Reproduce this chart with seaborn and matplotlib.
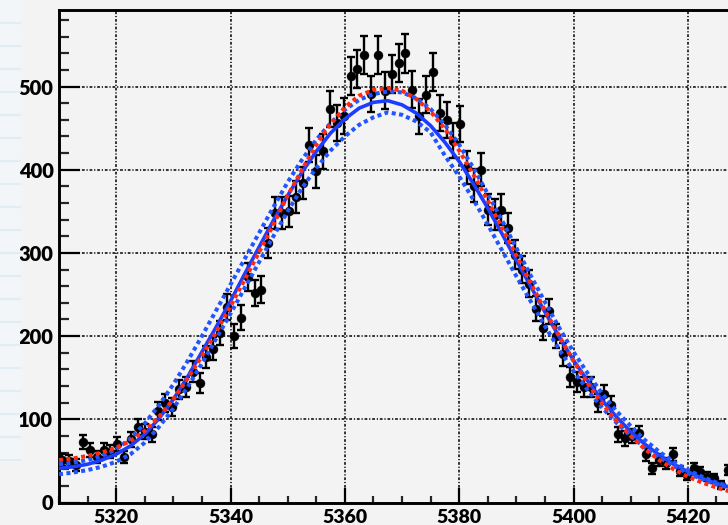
import numpy as np
import pandas as pd
import matplotlib
matplotlib.use("Agg")
import matplotlib.pyplot as plt
from matplotlib.ticker import MultipleLocator
from matplotlib.lines import Line2D
import seaborn as sns

# ---------------- data ----------------
bin_low = 5310.0
bin_width = 1.2
counts = [51, 50, 45, 73, 63, 55, 63, 61, 70, 55,
          76, 91, 85, 82, 110, 120, 115, 136, 139, 157,
          144, 175, 185, 204, 235, 200, 222, 271, 252, 256,
          312, 348, 348, 350, 367, 384, 430, 398, 422, 473,
          456, 465, 513, 521, 538, 491, 538, 495, 515, 528,
          540, 496, 464, 490, 517, 468, 460, 435, 455, 403,
          381, 400, 352, 346, 352, 330, 298, 280, 263, 233,
          210, 230, 200, 178, 151, 145, 139, 139, 120, 130,
          117, 82, 77, 80, 83, 58, 41, 51, 47, 58,
          38, 33, 41, 37, 31, 29, 21, 39]

fit_x = [5310, 5312.5, 5315, 5317.5, 5320, 5322.5, 5325, 5327.5, 5330, 5332.5,
         5335, 5337.5, 5340, 5342.5, 5345, 5347.5, 5350, 5352.5, 5355, 5357.5,
         5360, 5362.5, 5365, 5367.5, 5370, 5372.5, 5375, 5377.5, 5380, 5382.5,
         5385, 5387.5, 5390, 5392.5, 5395, 5397.5, 5400, 5402.5, 5405, 5407.5,
         5410, 5412.5, 5415, 5417.5, 5420, 5422.5, 5425, 5427.5, 5430]
fit_blue = [41, 43, 46, 51, 58, 68, 82, 101, 124, 151,
            181, 211, 242, 275, 307, 339, 369, 397, 422, 444,
            461, 474, 481, 483, 478, 468, 453, 433, 410, 383,
            354, 323, 291, 260, 229, 199, 171, 146, 123, 103,
            85, 70, 57, 46, 37, 29, 23, 18, 14]
fit_red = [51, 53, 56, 60, 66, 74, 86, 103, 124, 149,
           176, 205, 236, 268, 301, 334, 369, 400, 430, 455,
           475, 489, 496, 498, 495, 485, 470, 449, 423, 394,
           363, 330, 297, 264, 231, 200, 170, 143, 119, 98,
           80, 64, 51, 40, 31, 24, 18, 13, 10]
band_up = [46, 48, 51, 56, 64, 77, 95, 117, 142, 170,
           200, 231, 262, 293, 324, 355, 385, 412, 436, 456,
           472, 484, 491, 494, 493, 486, 473, 454, 430, 402,
           371, 339, 306, 273, 241, 210, 181, 155, 131, 110,
           92, 75, 61, 49, 39, 31, 24, 19, 15]
band_lo = [34, 36, 39, 43, 49, 58, 72, 91, 113, 139,
           167, 197, 227, 258, 289, 320, 350, 378, 402, 423,
           440, 454, 463, 469, 466, 458, 445, 417, 392, 364,
           334, 303, 272, 242, 212, 184, 158, 135, 114, 96,
           80, 66, 54, 44, 35, 28, 22, 17, 13]

x_ticks = [5320, 5340, 5360, 5380, 5400, 5420]
y_ticks = [0, 100, 200, 300, 400, 500]

# ---------------- figure ----------------
sns.set_theme(style="ticks")
plt.rcParams["font.family"] = ["Lato", "DejaVu Sans"]

W, H = 728, 525
fig = plt.figure(figsize=(W / 100, H / 100), dpi=100, facecolor="#f3f3f3")

# faint slide background at the far left
fig.patches.append(plt.Rectangle((0, 0.12), 20 / W, 0.88, transform=fig.transFigure,
                                 facecolor="#f2f6f8", edgecolor="none", zorder=0))
for yy in range(23, 470, 23):
    fig.lines.append(Line2D([0, 20 / W], [1 - yy / H, 1 - yy / H], transform=fig.transFigure,
                            color="#e2edf3", lw=1.6, zorder=0.5))

left_px, right_px, top_px, bot_px = 59, 745, 10, 502.5
ax = fig.add_axes([left_px / W, 1 - bot_px / H, (right_px - left_px) / W, (bot_px - top_px) / H])
ax.set_facecolor("#f3f3f3")

centers = bin_low + bin_width * (np.arange(len(counts)) + 0.5)
cnt = np.array(counts, dtype=float)
df = pd.DataFrame({"x": centers, "y": cnt})

# data with error bars
ax.errorbar(centers, cnt, yerr=np.sqrt(cnt), fmt="none", ecolor="black",
            elinewidth=1.7, capsize=2.6, capthick=1.7, zorder=3)
sns.scatterplot(data=df, x="x", y="y", ax=ax, color="black", s=42,
                edgecolor="black", linewidth=0.3, zorder=4, legend=False)

fit = pd.DataFrame({"x": fit_x, "blue": fit_blue, "red": fit_red,
                    "up": band_up, "lo": band_lo})
sns.lineplot(data=fit, x="x", y="blue", ax=ax, color="#1c3dff", lw=2.6,
             zorder=5, sort=False)
for col in ["up", "lo"]:
    sns.lineplot(data=fit, x="x", y=col, ax=ax, color="#2255ff", lw=2.9,
                 linestyle=(0, (1.0, 0.85)), zorder=6, sort=False)
sns.lineplot(data=fit, x="x", y="red", ax=ax, color="#ff2a10", lw=2.9,
             linestyle=(0, (1.0, 0.85)), zorder=7, sort=False)
for ln in ax.lines:
    ln.set_dash_capstyle("butt")

ax.set_xlim(5310, 5430)
ax.set_ylim(0, 592)
ax.set_xticks(x_ticks)
ax.set_yticks(y_ticks)
ax.set_xticklabels([str(v) for v in x_ticks])
ax.set_yticklabels([str(v) for v in y_ticks])
ax.xaxis.set_minor_locator(MultipleLocator(5))
ax.yaxis.set_minor_locator(MultipleLocator(20))
ax.set_xlabel("")
ax.set_ylabel("")

ax.grid(True, which="major", color="black", lw=1.1,
        linestyle=(0, (1.8, 1.2, 0.8, 1.2)), zorder=1)
ax.set_axisbelow(True)

ax.tick_params(axis="x", which="major", direction="in", length=10.5, width=1.6,
               pad=4.5, labelsize=14, colors="black")
ax.tick_params(axis="x", which="minor", direction="in", length=5, width=1.6)
ax.tick_params(axis="y", which="major", direction="in", length=15, width=1.6,
               pad=4, labelsize=14.5, colors="black")
ax.tick_params(axis="y", which="minor", direction="in", length=7.5, width=1.6)
for lab in ax.get_xticklabels() + ax.get_yticklabels():
    lab.set_fontweight("heavy")

for side in ["left", "top", "bottom", "right"]:
    ax.spines[side].set_color("black")
    ax.spines[side].set_linewidth(2.1)

fig.savefig("out.png", dpi=100, facecolor=fig.get_facecolor())
